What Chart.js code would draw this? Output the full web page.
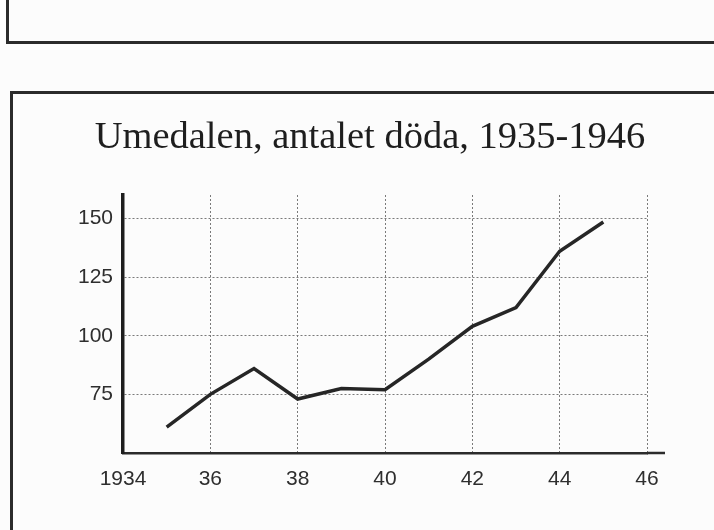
<!DOCTYPE html>
<html>
<head>
<meta charset="utf-8">
<script src="https://cdn.jsdelivr.net/npm/chart.js@4.4.1/dist/chart.umd.min.js"></script>
<style>
  html, body { margin: 0; padding: 0; background: #fcfcfc; }
  #wrap { position: relative; width: 714px; height: 530px; overflow: hidden; }
  #c { position: absolute; left: 0; top: 0; }
  .ln { position: absolute; background: #2b2b2b; }
  #title { position: absolute; left: 0; width: 740px; top: 113px; text-align: center;
           font-family: "Liberation Serif", "DejaVu Serif", serif; font-size: 38.5px; color: #1e1e1e; }
</style>
</head>
<body>
<div id="wrap">
  <div class="ln" style="left:6px; top:0; width:3px; height:44px;"></div>
  <div class="ln" style="left:6px; top:41px; width:708px; height:3px;"></div>
  <div class="ln" style="left:10px; top:91px; width:704px; height:3px;"></div>
  <div class="ln" style="left:10px; top:91px; width:3px; height:439px;"></div>
  <canvas id="c" width="714" height="530"></canvas>
  <div id="title">Umedalen, antalet döda, 1935-1946</div>
</div>
<script>
const years = [1935, 1936, 1937, 1938, 1939, 1940, 1941, 1942, 1943, 1944, 1945];
const deaths = [61, 75, 86, 73, 77.5, 77, 90, 104, 112, 136, 148.5];
const xTickValues = [1934, 1936, 1938, 1940, 1942, 1944, 1946];
const xTickLabels = ['1934', '36', '38', '40', '42', '44', '46'];
const yTickValues = [75, 100, 125, 150];

const axisExtend = {
  id: 'axisExtend',
  afterDraw(chart) {
    const ctx = chart.ctx, a = chart.chartArea;
    ctx.save();
    ctx.strokeStyle = '#2b2b2b';
    ctx.lineWidth = 2.5;
    ctx.beginPath();
    ctx.moveTo(a.right, a.bottom);
    ctx.lineTo(a.right + 18, a.bottom);
    ctx.stroke();
    ctx.restore();
  }
};

new Chart(document.getElementById('c'), {
  type: 'line',
  data: {
    datasets: [{
      data: years.map((y, i) => ({ x: y, y: deaths[i] })),
      borderColor: '#262626',
      borderWidth: 3.5,
      pointRadius: 0,
      tension: 0,
      fill: false
    }]
  },
  options: {
    responsive: false,
    animation: false,
    layout: { padding: { left: 26, right: 67, top: 195, bottom: 35 } },
    plugins: { legend: { display: false }, tooltip: { enabled: false }, title: { display: false } },
    scales: {
      x: {
        type: 'linear',
        min: 1934, max: 1946,
        afterBuildTicks: s => { s.ticks = xTickValues.map(v => ({ value: v })); },
        afterFit: s => { s.height = 42; },
        ticks: {
          autoSkip: false,
          maxRotation: 0,
          padding: 14,
          color: '#2e2e2e',
          font: { family: '"Liberation Sans", Arial, sans-serif', size: 21 },
          callback: v => xTickLabels[xTickValues.indexOf(v)]
        },
        grid: {
          drawTicks: false,
          color: c => (c.tick && c.tick.value === 1934) ? 'rgba(0,0,0,0)' : '#7a7a7a',
          lineWidth: 1
        },
        border: { display: true, color: '#2b2b2b', width: 2.5, dash: [2, 2] }
      },
      y: {
        min: 50, max: 160,
        afterBuildTicks: s => { s.ticks = yTickValues.map(v => ({ value: v })); },
        afterFit: s => { s.width = 97; },
        ticks: {
          padding: 10,
          color: '#2e2e2e',
          font: { family: '"Liberation Sans", Arial, sans-serif', size: 21 }
        },
        grid: { drawTicks: false, color: '#7a7a7a', lineWidth: 1 },
        border: { display: true, color: '#1e1e1e', width: 3.5, dash: [2, 2] }
      }
    }
  },
  plugins: [axisExtend]
});
</script>
</body>
</html>
